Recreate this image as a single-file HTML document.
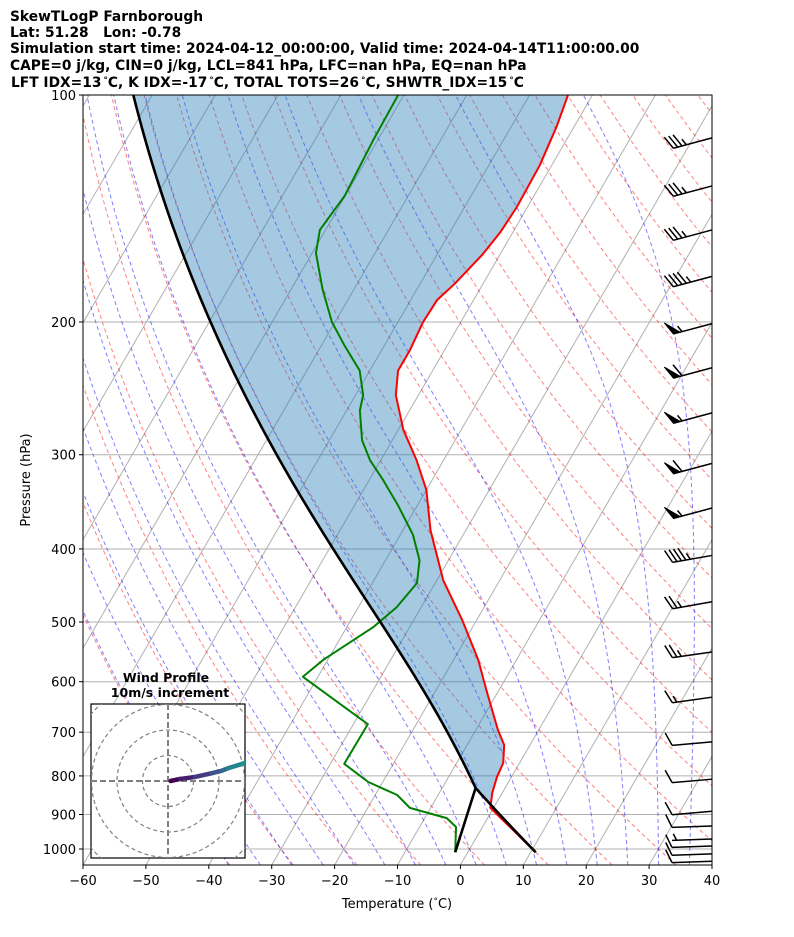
<!DOCTYPE html>
<html><head><meta charset="utf-8">
<style>
html,body{margin:0;padding:0;background:#fff;}
svg{display:block;font-family:"DejaVu Sans","Liberation Sans",sans-serif;}
.title{font-weight:bold;font-size:13.8px;fill:#000;}
.tick{font-size:13px;fill:#000;}
</style></head>
<body>
<svg id="chart" width="794" height="937" viewBox="0 0 794 937" xmlns="http://www.w3.org/2000/svg">
<defs>
<clipPath id="plotClip"><rect x="83" y="95" width="629" height="770"/></clipPath>
<clipPath id="hodoClip"><rect x="91" y="704" width="154" height="154"/></clipPath>
</defs>
<g>
<text class="title" x="10" y="21">SkewTLogP Farnborough</text>
<text class="title" x="10" y="37" xml:space="preserve">Lat: 51.28   Lon: -0.78</text>
<text class="title" x="10" y="53">Simulation start time: 2024-04-12_00:00:00, Valid time: 2024-04-14T11:00:00.00</text>
<text class="title" x="10" y="70">CAPE=0 j/kg, CIN=0 j/kg, LCL=841 hPa, LFC=nan hPa, EQ=nan hPa</text>
<text class="title" x="11" y="87">LFT IDX=13<tspan font-size="9" dy="-4" dx="2">°</tspan><tspan dy="4">C, K IDX=-17</tspan><tspan font-size="9" dy="-4" dx="2">°</tspan><tspan dy="4">C, TOTAL TOTS=26</tspan><tspan font-size="9" dy="-4" dx="2">°</tspan><tspan dy="4">C, SHWTR_IDX=15</tspan><tspan font-size="9" dy="-4" dx="2">°</tspan><tspan dy="4">C</tspan></text>
</g>
<g id="plot" clip-path="url(#plotClip)"></g>
<g id="profiles" clip-path="url(#plotClip)"></g>
<g id="barbs"></g>
<rect x="83" y="95" width="629" height="770" fill="none" stroke="#000" stroke-width="1"/>
<g id="axes"></g>
<text x="30" y="480" transform="rotate(-90 30 480)" text-anchor="middle" class="tick">Pressure (hPa)</text>
<text x="397" y="908" text-anchor="middle" class="tick">Temperature (<tspan font-size="9" dy="-4">°</tspan><tspan dy="4">C)</tspan></text>
<g id="hodo">
<text x="166" y="682" text-anchor="middle" font-weight="bold" font-size="12.5">Wind Profile</text>
<text x="170" y="697" text-anchor="middle" font-weight="bold" font-size="12.5">10m/s increment</text>
<rect x="91" y="704" width="154" height="154" fill="#fff" stroke="#000" stroke-width="1.2"/>
<g id="hodoInner" clip-path="url(#hodoClip)"></g>
</g>
</svg>
<script>
// ---- data ----
const tempP = [1010,882,842,803,769,728,695,621,561,497,440,378,334,305,278,250,232,218,200,187,178,163,152,141,124,110,100];
const tempT = [10.8,-0.5,-1.6,-2.3,-2.6,-4.1,-6.5,-11.6,-16.1,-22.3,-29,-35.6,-40,-44.3,-49.2,-53.6,-55.5,-55.5,-56,-55.8,-54.5,-52.8,-52,-51.7,-51.9,-52.8,-53.9];
const dewP = [1010,935,910,882,848,815,771,683,591,561,508,478,444,414,383,350,324,305,287,262,250,232,215,200,181,162,151,136,115,100];
const dewT = [-2,-4.2,-6.5,-13.3,-16.5,-22.3,-27.8,-27.7,-42.4,-40.7,-35.8,-33.9,-32.9,-34.6,-38,-43.1,-47.8,-51.7,-54.8,-57.9,-58.8,-61.6,-66.3,-70.5,-75,-79.4,-80.9,-80.1,-80.7,-80.9];
const windP = [114,132,151,174,201,230,264,308,353,408,470,548,629,721,808,891,932,970,991,1015,1038];
const windSpd = [35,35,35,45,55,60,55,60,55,45,25,25,15,10,10,10,10,5,10,10,10];
const windDir = [255,255,255,255,255,255,255,255,255,260,260,262,262,265,265,265,268,268,268,268,268];
const hodoU = [1,4.7,10.6,17,21,23.5,29,31];
const hodoV = [0,0.8,1.6,3,4,5,6.7,7.5];
const xTicks = [-60,-50,-40,-30,-20,-10,0,10,20,30,40];
const pTicks = [100,200,300,400,500,600,700,800,900,1000];

// ---- axes functions ----
const X0=83, X1=712, Y0=95, Y1=865, PXC=6.29, SK=0.58;
function yP(p){return Y0+754*Math.log10(p/100);}
function xT(T,p){return X0+(T+60)*PXC+(Y1-yP(p))*SK;}
const NS='http://www.w3.org/2000/svg';
function mk(tag,attrs,parent){const e=document.createElementNS(NS,tag);for(const k in attrs)e.setAttribute(k,attrs[k]);parent.appendChild(e);return e;}
function pathFrom(pts){return pts.map((q,i)=>(i?'L':'M')+q[0].toFixed(2)+' '+q[1].toFixed(2)).join('');}
const plot=document.getElementById('plot');
const prof=document.getElementById('profiles');
const axes=document.getElementById('axes');

pTicks.forEach(p=>{
  const l=mk('line',{x1:X0,x2:X1,y1:yP(p),y2:yP(p),stroke:'#b0b0b0','stroke-width':1},plot);
  
  
});
for(let T=-210;T<=40;T+=10){
  const l=mk('line',{x1:xT(T,1050),y1:yP(1050),x2:xT(T,100),y2:yP(100),stroke:'#b0b0b0','stroke-width':1},plot);
  
  
}
const pGrid=[];for(let p=1050;p>=100;p-=10)pGrid.push(p);
for(let t0=-40;t0<=200;t0+=10){
  const pts=pGrid.map(p=>{const T=(t0+273.15)*Math.pow(p/1000,0.2857)-273.15;return [xT(T,p),yP(p)];});
  const e=mk('path',{d:pathFrom(pts),fill:'none',stroke:'#ff0000','stroke-opacity':0.5,'stroke-width':1,'stroke-dasharray':'4,3'},plot);
  
  
}
function es(T){return 6.112*Math.exp(17.67*T/(T+243.5));}
function dTdp(Tc,p){const T=Tc+273.15;const e=es(Tc);const rs=0.622*e/Math.max(p-e,1);
  return (287*T+2.5e6*rs)/(p*(1005+2.5e6*2.5e6*rs*0.622/(287*T*T)));}
function moist(T0,p0,pEnd){const out=[[p0,T0]];let T=T0,p=p0;const dp=(pEnd<p0?-2:2);
  while((dp<0&&p>pEnd)||(dp>0&&p<pEnd)){T+=dTdp(T,p)*dp;p+=dp;out.push([p,T]);}return out;}
for(let t0=-40;t0<=45;t0+=5){
  const up=moist(t0,1000,100), dn=moist(t0,1000,1050);
  const all=dn.reverse().concat(up.slice(1));
  const e=mk('path',{d:pathFrom(all.map(a=>[xT(a[1],a[0]),yP(a[0])])),fill:'none',stroke:'#0000ff','stroke-opacity':0.5,'stroke-width':1,'stroke-dasharray':'4,3'},plot);
  
  
}
const p0=tempP[0],T0=tempT[0],Td0=dewT[0];
const r0=0.622*es(Td0)/(p0-es(Td0));
let pL=p0,TL=T0;
for(let p=p0;p>300;p-=1){const T=(T0+273.15)*Math.pow(p/p0,0.2857)-273.15;const e=r0*p/(0.622+r0);const Td=243.5*Math.log(e/6.112)/(17.67-Math.log(e/6.112));if(T<=Td){pL=p;TL=T;break;}}
const parcel=[];
for(let p=p0;p>pL;p-=2){parcel.push([p,(T0+273.15)*Math.pow(p/p0,0.2857)-273.15]);}
moist(TL,pL,100).forEach(a=>parcel.push([a[0],a[1]-1.5*(pL-a[0])/(pL-100)]));
const fillTop=tempP.map((p,i)=>[xT(tempT[i],p),yP(p)]);
const fillBot=parcel.slice().reverse().map(a=>[xT(a[1],a[0]),yP(a[0])]);
const fe=mk('path',{d:pathFrom(fillTop.concat(fillBot))+'Z',fill:'#1f77b4','fill-opacity':0.4,stroke:'none'},prof);


const tl=mk('path',{d:pathFrom(tempP.map((p,i)=>[xT(tempT[i],p),yP(p)])),fill:'none',stroke:'#ff0000','stroke-width':2,'stroke-linejoin':'round'},prof);


const dl=mk('path',{d:pathFrom(dewP.map((p,i)=>[xT(dewT[i],p),yP(p)])),fill:'none',stroke:'#008000','stroke-width':2,'stroke-linejoin':'round'},prof);


const pl=mk('path',{d:pathFrom(parcel.map(a=>[xT(a[1],a[0]),yP(a[0])])),fill:'none',stroke:'#000','stroke-width':2.6},prof);


const ll=mk('line',{x1:xT(Td0,p0),y1:yP(p0),x2:xT(TL,pL),y2:yP(pL),stroke:'#000','stroke-width':2.6},prof);



xTicks.forEach(t=>{
  const x=X0+(t+60)*PXC;
  mk('line',{x1:x,x2:x,y1:Y1,y2:Y1+4,stroke:'#000'},axes);
  const tx=mk('text',{x:x,y:Y1+20,'text-anchor':'middle',class:'tick'},axes);
  tx.textContent=(t<0?'\u2212':'')+Math.abs(t);
  
  
});
pTicks.forEach(p=>{
  mk('line',{x1:X0-4,x2:X0,y1:yP(p),y2:yP(p),stroke:'#000'},axes);
  const tx=mk('text',{x:X0-7,y:yP(p)+5,'text-anchor':'end',class:'tick'},axes);
  tx.textContent=p;
  
  
});

const bg=document.getElementById('barbs');
windP.forEach((p,i)=>{
  const bx=712,by=yP(p);const th=windDir[i]*Math.PI/180;
  const u=[Math.sin(th),-Math.cos(th)];const n=[-u[1],u[0]];
  const L=40,FL=13,SP=4.5;
  const g=mk('g',{},bg);
  
  
  const tip=[bx+u[0]*L,by+u[1]*L];
  let d='M'+bx+' '+by+'L'+tip[0]+' '+tip[1];
  let s=windSpd[i];let pos=0;
  const pt=(k)=>[tip[0]-u[0]*k,tip[1]-u[1]*k];
  const fv=(len)=>[n[0]*len+u[0]*len*0.45,n[1]*len+u[1]*len*0.45];
  const polys=[];
  while(s>=50){const a=pt(pos),b=pt(pos+7);const f=fv(FL);polys.push([a,[a[0]+f[0],a[1]+f[1]],b]);pos+=8;s-=50;}
  if(pos>0)pos+=1;
  while(s>=10){const a=pt(pos);const f=fv(FL);d+='M'+a[0]+' '+a[1]+'l'+f[0]+' '+f[1];pos+=SP;s-=10;}
  if(s>=5){if(pos===0)pos=SP;const a=pt(pos);const f=fv(FL/2);d+='M'+a[0]+' '+a[1]+'l'+f[0]+' '+f[1];}
  mk('path',{d:d,stroke:'#000','stroke-width':1.5,fill:'none'},g);
  polys.forEach(q=>mk('path',{d:pathFrom(q)+'Z',fill:'#000',stroke:'#000','stroke-width':1},g));
});

const hi=document.getElementById('hodoInner');
const HCX=168,HCY=781,HS=2.55;
[1,2,3,4].forEach(k=>{const c=mk('circle',{cx:HCX,cy:HCY,r:k*10*HS,fill:'none',stroke:'#808080','stroke-width':1.2,'stroke-dasharray':'4,3'},hi);
  
  });
mk('line',{x1:91,x2:245,y1:HCY,y2:HCY,stroke:'#808080','stroke-width':2,'stroke-dasharray':'6,3'},hi);
mk('line',{x1:HCX,x2:HCX,y1:704,y2:858,stroke:'#808080','stroke-width':2,'stroke-dasharray':'6,3'},hi);
const vir=['#440154','#481f70','#443983','#3b528b','#31688e','#26828e','#21918c','#fde725'];
for(let i=0;i<hodoU.length-1;i++){
  const s=mk('line',{x1:HCX+hodoU[i]*HS,y1:HCY-hodoV[i]*HS,x2:HCX+hodoU[i+1]*HS,y2:HCY-hodoV[i+1]*HS,stroke:vir[Math.min(i,vir.length-1)],'stroke-width':4.5,'stroke-linecap':'round'},hi);
  
  
}
</script>
</body></html>
